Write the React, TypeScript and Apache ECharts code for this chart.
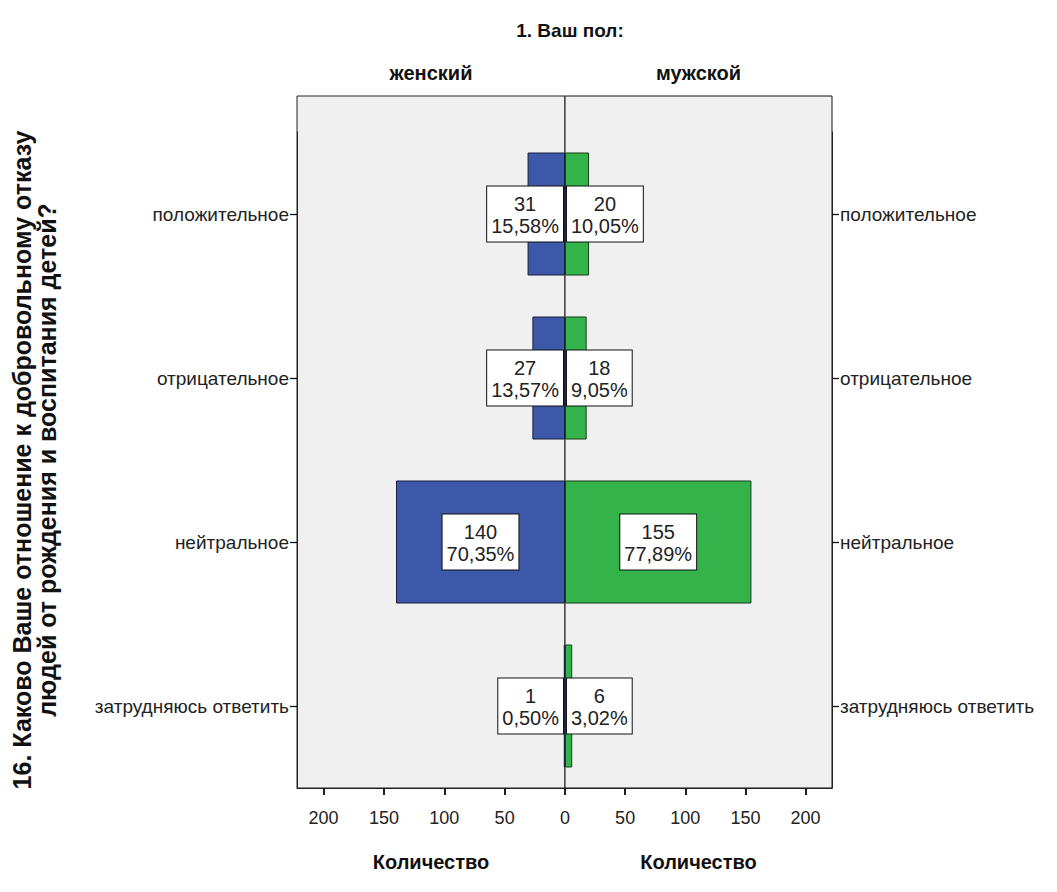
import React, { useEffect, useRef } from "react";
import * as echarts from "echarts";

const categories = ["положительное", "отрицательное", "нейтральное", "затрудняюсь ответить"];
const femaleCounts = [31, 27, 140, 1];
const maleCounts = [20, 18, 155, 6];
const femalePct = ["15,58%", "13,57%", "70,35%", "0,50%"];
const malePct = ["10,05%", "9,05%", "77,89%", "3,02%"];
const leftTicks = [0, 50, 100, 150, 200];
const rightTicks = [50, 100, 150, 200];
const genderLabels = ["женский", "мужской"];
const titleText = "1. Ваш пол:";
const xAxisTitle = "Количество";
const yAxisTitle = "16. Каково Ваше отношение к добровольному отказу\nлюдей от рождения и воспитания детей?";

const FONT = "Arial, 'Liberation Sans', sans-serif";
const AXIS_MAX = 222;
const TICK_STEP = 50;

export default function App() {
  const ref = useRef<HTMLDivElement>(null);
  useEffect(() => {
    if (!ref.current) return;
    const chart = echarts.init(ref.current, null, { renderer: "svg" });

    const boxLabel = {
      show: true,
      color: "#222",
      fontFamily: FONT,
      fontSize: 20,
      lineHeight: 22,
      backgroundColor: "#fff",
      borderColor: "#111",
      borderWidth: 1,
      padding: [6, 4, 5, 4],
      align: "center",
      verticalAlign: "middle",
      rich: {
        v: { align: "center", color: "#222", fontFamily: FONT, fontSize: 20, lineHeight: 22 },
      },
    };

    const makeData = (vals: number[], side: "left" | "right") =>
      vals.map((v) => {
        const fits = v > 70;
        const label = fits
          ? { position: "inside" }
          : side === "left"
          ? { position: ["100%", "50%"], align: "right", offset: [-2, 0] }
          : { position: ["0%", "50%"], align: "left", offset: [2, 0] };
        return { value: v, label };
      });

    const catAxisCommon = {
      type: "category",
      data: categories,
      inverse: true,
      axisLine: { show: true, onZero: false, lineStyle: { color: "#222", width: 1 } },
      axisTick: { show: true, alignWithLabel: true, length: 7, lineStyle: { color: "#111", width: 1.3 } },
      axisLabel: { color: "#222", fontSize: 19, fontFamily: FONT, margin: 8 },
      splitLine: { show: false },
    };

    const tickStyle = { show: true, length: 7, lineStyle: { color: "#111", width: 1.5 } };

    const valAxisCommon = {
      type: "value",
      min: 0,
      max: AXIS_MAX,
      position: "bottom",
      splitLine: { show: false },
      axisLine: { show: true, onZero: false, lineStyle: { color: "#222" } },
      axisTick: tickStyle,
      name: xAxisTitle,
      nameLocation: "middle",
      nameGap: 64,
      nameTextStyle: { fontSize: 20, fontWeight: "bold", color: "#111", fontFamily: FONT },
    };

    const frameTopAxis = (gi: number, name: string) => ({
      gridIndex: gi, type: "value", position: "top", min: 0, max: 1,
      axisLine: { show: false }, axisTick: { show: false }, axisLabel: { show: false }, splitLine: { show: false },
      name, nameLocation: "middle", nameGap: 13,
      nameTextStyle: { fontSize: 20, fontWeight: "bold", color: "#111", fontFamily: FONT },
    });

    // thin strip grids just below the frame: their split lines act as the bottom tick marks
    const tickStripAxis = (gi: number, inverse: boolean, showMin: boolean) => ({
      gridIndex: gi, type: "value", position: "bottom", min: 0, max: AXIS_MAX, interval: TICK_STEP, inverse,
      axisLine: { show: false, onZero: false }, axisTick: { show: false }, axisLabel: { show: false },
      splitLine: { show: true, showMinLine: showMin, showMaxLine: false, lineStyle: { color: "#111", width: 1.5 } },
    });

    chart.setOption({
      animation: false,
      backgroundColor: "#fff",
      title: {
        text: titleText,
        left: 565,
        top: 16,
        textAlign: "center",
        textStyle: { fontSize: 19, fontWeight: "bold", color: "#111", fontFamily: FONT },
      },
      grid: [
        { left: 297, top: 96, width: 268, height: 692, show: true, backgroundColor: "#f0f0f0", borderColor: "#222", borderWidth: 1, containLabel: false },
        { left: 565, top: 96, width: 267, height: 692, show: true, backgroundColor: "#f0f0f0", borderColor: "#111", borderWidth: 1, containLabel: false },
        { left: 297, top: 132, width: 268, height: 656, containLabel: false },
        { left: 565, top: 132, width: 267, height: 656, containLabel: false },
        { left: 297, top: 788, width: 268, height: 7, containLabel: false },
        { left: 565, top: 788, width: 267, height: 7, containLabel: false },
      ],
      xAxis: [
        frameTopAxis(0, genderLabels[0]),
        frameTopAxis(1, genderLabels[1]),
        {
          ...valAxisCommon,
          gridIndex: 2,
          inverse: true,
          axisTick: { ...tickStyle, customValues: leftTicks },
          axisLabel: { color: "#222", fontSize: 18, fontFamily: FONT, margin: 21, customValues: leftTicks },
        },
        {
          ...valAxisCommon,
          gridIndex: 3,
          axisTick: { ...tickStyle, customValues: rightTicks },
          axisLabel: { color: "#222", fontSize: 18, fontFamily: FONT, margin: 21, customValues: rightTicks },
        },
        tickStripAxis(4, true, true),
        tickStripAxis(5, false, false),
      ],
      yAxis: [
        { gridIndex: 0, type: "value", show: false },
        { gridIndex: 1, type: "value", show: false },
        {
          ...catAxisCommon,
          gridIndex: 2,
          position: "left",
          name: yAxisTitle,
          nameLocation: "middle",
          nameGap: 238,
          nameRotate: 90,
          nameTextStyle: { fontSize: 25, fontWeight: "bold", color: "#111", fontFamily: FONT, lineHeight: 25, align: "center" },
        },
        { ...catAxisCommon, gridIndex: 3, position: "right" },
        { gridIndex: 4, type: "value", show: false },
        { gridIndex: 5, type: "value", show: false },
      ],
      series: [
        {
          type: "bar",
          name: genderLabels[0],
          xAxisIndex: 2,
          yAxisIndex: 2,
          barWidth: 123,
          itemStyle: { color: "#3d58a8", borderColor: "#1a1f3d", borderWidth: 1 },
          label: { ...boxLabel, formatter: (p: any) => `{v|${p.value}}\n{v|${femalePct[p.dataIndex]}}` },
          data: makeData(femaleCounts, "left"),
        },
        {
          type: "bar",
          name: genderLabels[1],
          xAxisIndex: 3,
          yAxisIndex: 3,
          barWidth: 123,
          itemStyle: { color: "#33b34a", borderColor: "#1a3d1f", borderWidth: 1 },
          label: { ...boxLabel, formatter: (p: any) => `{v|${p.value}}\n{v|${malePct[p.dataIndex]}}` },
          data: makeData(maleCounts, "right"),
        },
      ],
    });
    return () => chart.dispose();
  }, []);
  return <div ref={ref} style={{ position: "absolute", left: 0, top: 0, width: 1057, height: 892 }} />;
}
